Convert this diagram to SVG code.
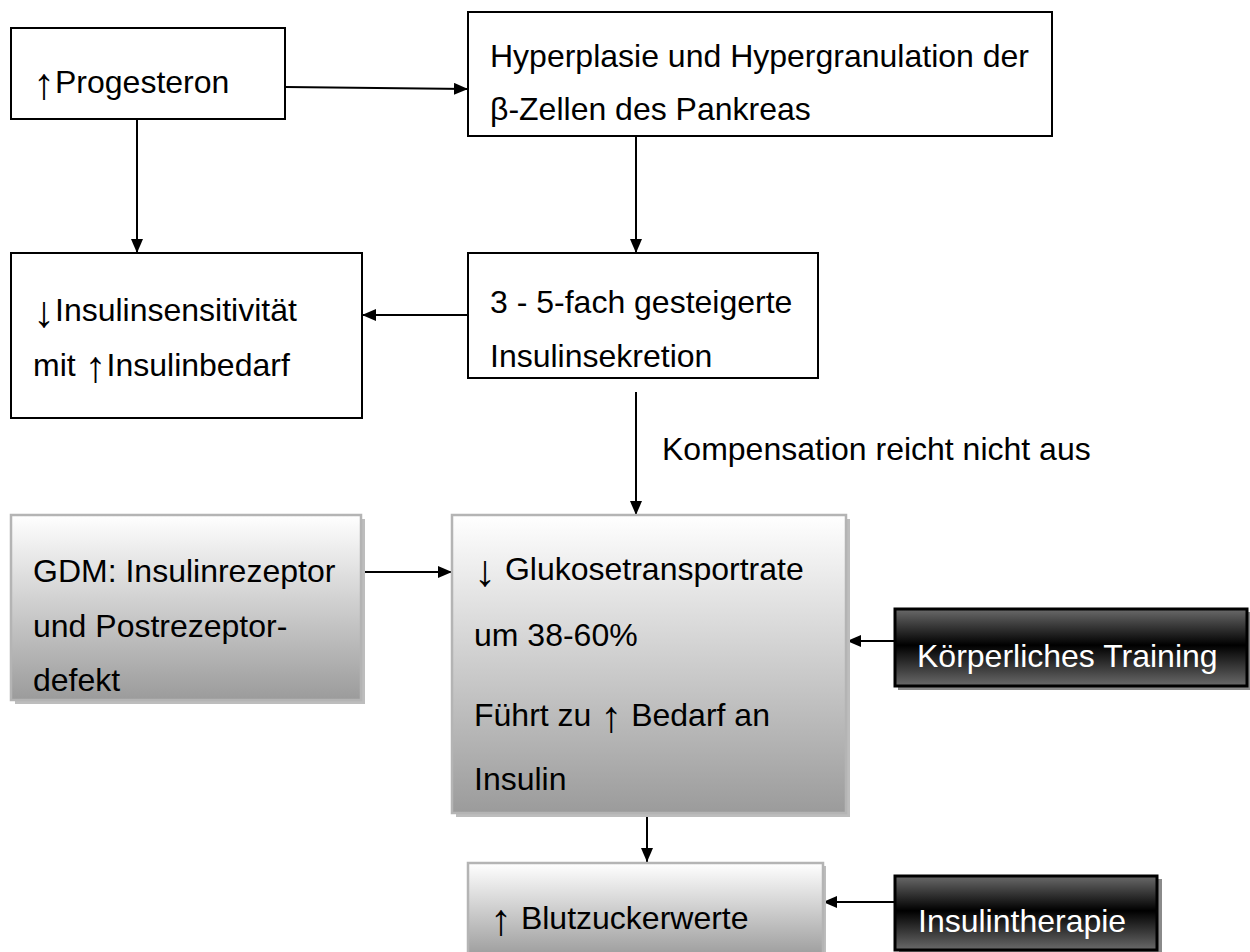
<svg xmlns="http://www.w3.org/2000/svg" width="1250" height="952" viewBox="0 0 1250 952">
<defs>
<linearGradient id="gLight" x1="0" y1="0" x2="0" y2="1">
<stop offset="0" stop-color="#ffffff"/>
<stop offset="1" stop-color="#9b9b9b"/>
</linearGradient>
<linearGradient id="gDark" x1="0" y1="0" x2="0" y2="1">
<stop offset="0" stop-color="#6a6a6a"/>
<stop offset="0.47" stop-color="#000000"/>
<stop offset="1" stop-color="#6a6a6a"/>
</linearGradient>
<marker id="ah" markerWidth="14" markerHeight="12" refX="14" refY="6" orient="auto" markerUnits="userSpaceOnUse">
<path d="M0,0 L14,6 L0,12 Z" fill="#000"/>
</marker>
</defs>
<style>
.plain{fill:#fff;stroke:#000;stroke-width:2}
.light{fill:url(#gLight);stroke:#b4b4b4;stroke-width:2.5}
.dark{fill:url(#gDark);stroke:#000;stroke-width:3}
.shadow{fill:#bdbdbd}
.shadowd{fill:#8a8a8a}
text{font-family:"Liberation Sans",Arial,sans-serif;font-size:32px;fill:#000}
.w{fill:#fff}
.ar{font-size:44px}
.conn{stroke:#000;stroke-width:2;fill:none;marker-end:url(#ah)}
</style>

<g id="connectors">
<line class="conn" x1="286" y1="87" x2="468" y2="89"/>
<line class="conn" x1="137" y1="119" x2="137" y2="253"/>
<line class="conn" x1="636" y1="136" x2="636" y2="253"/>
<line class="conn" x1="468" y1="315" x2="362" y2="315"/>
<line class="conn" x1="636" y1="392" x2="636" y2="515"/>
<line class="conn" x1="362" y1="572" x2="452" y2="572"/>
<line class="conn" x1="894" y1="641" x2="847" y2="641"/>
<line class="conn" x1="647" y1="813" x2="647" y2="862"/>
<line class="conn" x1="894" y1="902" x2="823" y2="902"/>
<text x="662" y="460">Kompensation reicht nicht aus</text>
</g>

<g id="progesteron">
<rect class="plain" x="11" y="28" width="274" height="91"/>
<text x="33" y="93"><tspan class="ar" dy="6">↑</tspan><tspan dy="-6">Progesteron</tspan></text>
</g>

<g id="hyperplasie">
<rect class="plain" x="468" y="12" width="584" height="124"/>
<text x="490" y="67">Hyperplasie und Hypergranulation der</text>
<text x="490" y="120">β-Zellen des Pankreas</text>
</g>

<g id="insulinsensitivitaet">
<rect class="plain" x="11" y="253" width="351" height="165"/>
<text x="33" y="321"><tspan class="ar" dy="6">↓</tspan><tspan dy="-6">Insulinsensitivität</tspan></text>
<text x="33" y="376">mit <tspan class="ar" dy="6">↑</tspan><tspan dy="-6">Insulinbedarf</tspan></text>
</g>

<g id="insulinsekretion">
<rect class="plain" x="468" y="253" width="350" height="125"/>
<text x="490" y="313">3 - 5-fach gesteigerte</text>
<text x="490" y="367">Insulinsekretion</text>
</g>

<g id="gdm">
<rect class="shadow" x="15" y="519" width="350" height="185"/>
<rect class="light" x="11" y="515" width="350" height="185"/>
<text x="33" y="582">GDM: Insulinrezeptor</text>
<text x="33" y="637">und Postrezeptor-</text>
<text x="33" y="691">defekt</text>
</g>

<g id="glukose">
<rect class="shadow" x="456" y="519" width="394" height="298"/>
<rect class="light" x="452" y="515" width="394" height="298"/>
<text x="474" y="580"><tspan class="ar" dy="6">↓</tspan><tspan dy="-6"> Glukosetransportrate</tspan></text>
<text x="474" y="646">um 38-60%</text>
<text x="474" y="726">Führt zu <tspan class="ar" dy="6">↑</tspan><tspan dy="-6"> Bedarf an</tspan></text>
<text x="474" y="790">Insulin</text>
</g>

<g id="training">
<rect class="shadowd" x="898" y="612" width="353" height="78"/>
<rect class="dark" x="895" y="609" width="352" height="77"/>
<text class="w" x="917" y="667">Körperliches Training</text>
</g>

<g id="blutzucker">
<rect class="shadow" x="471" y="866" width="355" height="95"/>
<rect class="light" x="468" y="863" width="355" height="95"/>
<text x="490" y="929"><tspan class="ar" dy="6">↑</tspan><tspan dy="-6"> Blutzuckerwerte</tspan></text>
</g>

<g id="insulintherapie">
<rect class="shadowd" x="899" y="879" width="263" height="75"/>
<rect class="dark" x="895" y="876" width="262" height="74"/>
<text class="w" x="918" y="932">Insulintherapie</text>
</g>
</svg>
